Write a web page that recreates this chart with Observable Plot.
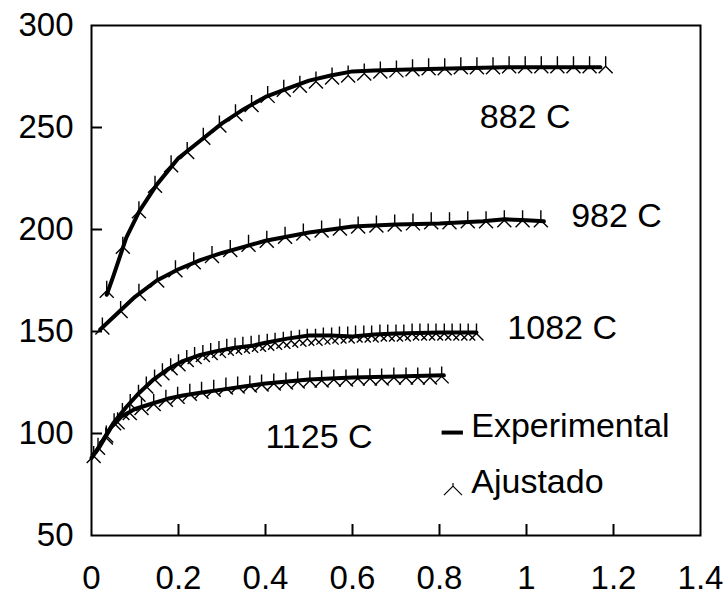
<!DOCTYPE html>
<html>
<head>
<meta charset="utf-8">
<script src="https://cdn.jsdelivr.net/npm/d3@7"></script>
<script src="https://cdn.jsdelivr.net/npm/@observablehq/plot@0.6"></script>
<style>
  html, body { margin: 0; padding: 0; background: white; }
</style>
</head>
<body>
<div id="chart"></div>
<script>
// ---- Data ----
const seriesNames = ["882 C", "982 C", "1082 C", "1125 C"];

// Fitted ("Ajustado") points
const fitStrain882 = [0.035,0.072,0.109,0.146,0.183,0.220,0.257,0.294,0.331,0.368,0.405,0.442,0.479,0.516,0.553,0.590,0.627,0.664,0.701,0.738,0.775,0.812,0.849,0.886,0.923,0.960,0.997,1.034,1.071,1.108,1.145,1.182];
const fitStress882 = [170,191.5,209,221.5,231.5,238,245,251,256.5,261,265.5,268.5,270.5,272.5,274.5,275.5,276.5,277.5,278,278.5,279,279,279.5,279.5,279.5,280,280,280,280,280,280,280];

const fitStrain982 = [0.025,0.067,0.109,0.151,0.193,0.235,0.277,0.319,0.361,0.403,0.445,0.487,0.529,0.571,0.613,0.655,0.697,0.739,0.781,0.823,0.865,0.907,0.949,0.991,1.033];
const fitStress982 = [152,160,168.5,175,180,184,187,190,192.5,194.5,196.5,198,199.5,200.5,201.5,202,202.5,203,203.5,203.5,204,204,204.5,204.5,204.5];

const fitStrain1082 = [0.015,0.034,0.052,0.071,0.089,0.108,0.126,0.145,0.163,0.182,0.200,0.219,0.237,0.256,0.274,0.293,0.311,0.330,0.348,0.367,0.385,0.404,0.422,0.441,0.459,0.478,0.496,0.515,0.533,0.552,0.570,0.589,0.607,0.626,0.644,0.663,0.681,0.700,0.718,0.737,0.755,0.774,0.792,0.811,0.829,0.848,0.866,0.885];
const fitStress1082 = [93,99,105,110,114.5,119,123,126.5,129.5,132,134,136,137.5,138.5,139.5,140.5,141.5,142,142.5,143,143.5,144,144.5,145,145.5,146,146.5,146.5,147,147,147.5,147.5,148,148,148,148.5,148.5,148.5,148.5,149,149,149,149,149,149,149,149,149];

const fitStrain1125 = [0.005,0.033,0.060,0.088,0.115,0.143,0.171,0.198,0.226,0.253,0.281,0.309,0.336,0.364,0.391,0.419,0.447,0.474,0.502,0.529,0.557,0.585,0.612,0.640,0.667,0.695,0.723,0.750,0.778,0.805];
const fitStress1125 = [89,98,105.5,110,112.5,114.5,116.5,118,119.5,120.5,121.5,122.5,123,123.5,124,124.5,125,125.5,126,126,126.5,126.5,127,127,127,127.5,127.5,127.5,127.5,128];

// Experimental curves
const expStrain882 = [0.035,0.05,0.08,0.11,0.15,0.2,0.25,0.3,0.35,0.4,0.45,0.5,0.55,0.6,0.65,0.75,0.85,0.95,1.05,1.17];
const expStress882 = [168,177,196,209,222,235,243.5,252,259,265,269,273,275.5,277.5,278,278.5,279,279.5,279.5,279.5];

const expStrain982 = [0.02,0.05,0.1,0.15,0.2,0.25,0.3,0.35,0.4,0.5,0.6,0.7,0.8,0.9,0.95,1.0,1.04];
const expStress982 = [151,157,167,175,180.5,185,188.5,191.5,194.5,198.5,201.5,202.5,203,204,205,204.5,204];

const expStrain1082 = [0.01,0.03,0.05,0.08,0.11,0.14,0.175,0.21,0.25,0.29,0.33,0.37,0.4,0.45,0.5,0.55,0.6,0.65,0.7,0.8,0.885];
const expStress1082 = [91,98,105,113,120,126,131.5,135.5,138.5,140.5,142,143,144.5,146.5,148,148,147.5,148.5,149,149.5,149.5];

const expStrain1125 = [0.0,0.02,0.045,0.07,0.1,0.14,0.175,0.21,0.25,0.3,0.35,0.4,0.5,0.6,0.7,0.81];
const expStress1125 = [88,94,103,108.5,112,114.7,117,118.6,120,121.5,123,124.5,126.5,127.5,128,128.5];

// Axis ticks
const xTickValues = [0, 0.2, 0.4, 0.6, 0.8, 1, 1.2, 1.4];
const xTickInner = [0.2, 0.4, 0.6, 0.8, 1, 1.2];
const yTickValues = [50, 100, 150, 200, 250, 300];
const yTickInner = [100, 150, 200, 250];

// Curve labels (anchored in data coordinates)
const labelText = ["882 C", "982 C", "1082 C", "1125 C"];
const labelStrain = [0.997, 1.207, 1.082, 0.523];
const labelStress = [254.9, 206.4, 151.7, 98];

// Legend entries
const legendText = ["Experimental", "Ajustado"];
const legendStrain = [0.873, 0.873];
const legendStress = [103.4, 76.2];

// ---- Build tables ----
const fitSets = [
  [fitStrain882, fitStress882], [fitStrain982, fitStress982],
  [fitStrain1082, fitStress1082], [fitStrain1125, fitStress1125]
];
const expSets = [
  [expStrain882, expStress882], [expStrain982, expStress982],
  [expStrain1082, expStress1082], [expStrain1125, expStress1125]
];
const fitRows = fitSets.flatMap(([xs, ys], i) => xs.map((x, j) => ({series: seriesNames[i], strain: x, stress: ys[j]})));
const expRows = expSets.flatMap(([xs, ys], i) => xs.map((x, j) => ({series: seriesNames[i], strain: x, stress: ys[j]})));
const labels = labelText.map((t, i) => ({text: t, strain: labelStrain[i], stress: labelStress[i]}));
const legendRows = legendText.map((t, i) => ({text: t, strain: legendStrain[i], stress: legendStress[i]}));

// Inverted-Y marker
const triMarker = {
  draw(ctx) {
    ctx.moveTo(0, 0); ctx.lineTo(0, -10);
    ctx.moveTo(0, 0); ctx.lineTo(-7, 7);
    ctx.moveTo(0, 0); ctx.lineTo(7, 7);
  }
};
const legendMarker = {
  draw(ctx) {
    ctx.moveTo(0, 0); ctx.lineTo(0, -3);
    ctx.moveTo(0, 0); ctx.lineTo(-9, 9);
    ctx.moveTo(0, 0); ctx.lineTo(9, 9);
  }
};

const W = 726, H = 599, mL = 91, mR = 26, mT = 25, mB = 64;
const innerW = W - mL - mR, innerH = H - mT - mB;

const chart = Plot.plot({
  width: W, height: H,
  marginLeft: mL, marginRight: mR, marginTop: mT, marginBottom: mB,
  style: {fontFamily: "'Liberation Sans', Arial, sans-serif", background: "white", color: "black"},
  x: {domain: [0, 1.4]},
  y: {domain: [50, 300]},
  marks: [
    Plot.axisX({ticks: xTickValues, tickSize: 0, tickPadding: 30, tickFormat: d => String(d), fontSize: 33, label: null}),
    Plot.axisY({ticks: yTickValues, tickSize: 0, tickPadding: 18, tickFormat: d => String(d), fontSize: 33, label: null}),
    Plot.tickX(xTickInner, {x: d => d, insetTop: innerH - 11, stroke: "black", strokeWidth: 2}),
    Plot.tickY(yTickInner, {y: d => d, insetRight: innerW - 11, stroke: "black", strokeWidth: 2}),
    Plot.dot(fitRows, {x: "strain", y: "stress", symbol: triMarker, fill: "none", stroke: "black", strokeWidth: 1.4}),
    Plot.line(expRows, {x: "strain", y: "stress", z: "series", stroke: "black", strokeWidth: 4}),
    Plot.text(labels, {x: "strain", y: "stress", text: "text", fontSize: 34, fill: "black"}),
    Plot.text(legendRows, {x: "strain", y: "stress", text: "text", fontSize: 34, fill: "black", textAnchor: "start"}),
    Plot.tickY(legendRows.slice(0, 1), {y: "stress", dy: 6, stroke: "black", strokeWidth: 4,
      insetLeft: innerW * 0.806 / 1.4, insetRight: innerW * (1.4 - 0.855) / 1.4}),
    Plot.dot(legendRows.slice(1), {x: d => d.strain - 0.042, y: "stress", dy: 4, symbol: legendMarker, fill: "none", stroke: "black", strokeWidth: 1.2}),
    Plot.frame({stroke: "black", strokeWidth: 2})
  ]
});
document.getElementById("chart").appendChild(chart);
</script>
</body>
</html>
